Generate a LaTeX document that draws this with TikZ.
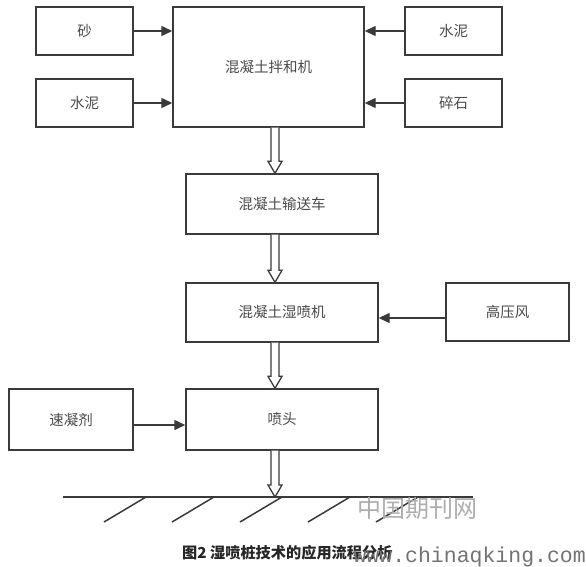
\documentclass[tikz,border=0pt]{standalone}
\usepackage{fontspec}
\newfontfamily\cjk{Noto Sans CJK SC}
\setmonofont{Liberation Mono}
\usetikzlibrary{arrows.meta,calc}
\definecolor{ink}{HTML}{3A3A3A}
\definecolor{txt}{HTML}{4A4A4A}
\tikzset{
  box/.style={draw=ink, line width=1.4pt, fill=white, text=txt, font=\cjk\fontsize{14.5}{16}\selectfont, inner sep=0pt},
  arr/.style={draw=ink, line width=1.4pt, -{Triangle[length=11pt,width=10pt]}},
  hollow/.style={draw=ink, line width=1.3pt, fill=white, to path={
     let \p1=(\tikztostart), \p2=(\tikztotarget) in
     (\x1-4pt,\y1) -- (\x1-4pt,\y2+12pt) -- (\x1-7pt,\y2+12pt) -- (\x1,\y2) -- (\x1+7pt,\y2+12pt) -- (\x1+4pt,\y2+12pt) -- (\x1+4pt,\y1)}},
  ground/.style={draw=ink, line width=1.5pt}
}
\begin{document}
\begin{tikzpicture}[x=1pt,y=-1pt]
\useasboundingbox (0,0) rectangle (586,566);
% boxes
\node[box, minimum width=97pt, minimum height=48pt] (sand) at (84.5,31) {砂};
\node[box, minimum width=97pt, minimum height=48pt] (cementL) at (84.5,103) {水泥};
\node[box, minimum width=191pt, minimum height=120pt] (mixer) at (268.5,67) {混凝土拌和机};
\node[box, minimum width=97pt, minimum height=48pt] (cementR) at (453.5,31) {水泥};
\node[box, minimum width=97pt, minimum height=48pt] (gravel) at (453.5,103) {碎石};
\node[box, minimum width=192pt, minimum height=60pt] (truck) at (282,204) {混凝土输送车};
\node[box, minimum width=192pt, minimum height=59pt] (sprayer) at (282,312.5) {混凝土湿喷机};
\node[box, minimum width=123pt, minimum height=58pt] (wind) at (507.5,312) {高压风};
\node[box, minimum width=192pt, minimum height=61pt] (nozzle) at (282,419.5) {喷头};
\node[box, minimum width=124pt, minimum height=61pt] (accel) at (71,419.5) {速凝剂};
% input arrows
\draw[arr] (sand.east) -- (sand.east -| mixer.west);
\draw[arr] (cementL.east) -- (cementL.east -| mixer.west);
\draw[arr] (cementR.west) -- (cementR.west -| mixer.east);
\draw[arr] (gravel.west) -- (gravel.west -| mixer.east);
\draw[arr] ([yshift=-6pt]wind.west) -- ([yshift=-6pt]wind.west -| sprayer.east);
\draw[arr] ([yshift=-5.5pt]accel.east) -- ([yshift=-5.5pt]accel.east -| nozzle.west);
% ground
\coordinate (gl) at (63,497);
\coordinate (gr) at (473,497);
\coordinate (gnd) at (275,497);
\coordinate (axis) at (275,0);
\draw[ground] (gl) -- (gr);
\foreach \k in {0,...,4}{
  \draw[ground] (146+68*\k,497) -- (104+68*\k,522);
}
% hollow flow arrows
\draw[hollow] (mixer.south -| axis) to (truck.north -| axis);
\draw[hollow] (truck.south -| axis) to (sprayer.north -| axis);
\draw[hollow] (sprayer.south -| axis) to (nozzle.north -| axis);
\draw[hollow] (nozzle.south -| axis) to (gnd);
% watermark
\node[anchor=west, text=black!32, font=\cjk\fontsize{24}{26}\selectfont, inner sep=0pt] (wm1) at (357,508) {中国期刊网};
% caption
\node[anchor=west, text=black!85, font=\cjk\bfseries\fontsize{15.2}{17}\selectfont, inner sep=0pt] (cap) at (182,553) {图2 湿喷桩技术的应用流程分析};
\node[anchor=base east, text=black!55, font=\ttfamily\fontsize{21.5}{24}\selectfont, inner sep=0pt] (wm2) at (586,562) {www.chinaqking.com};
\end{tikzpicture}
\end{document}
